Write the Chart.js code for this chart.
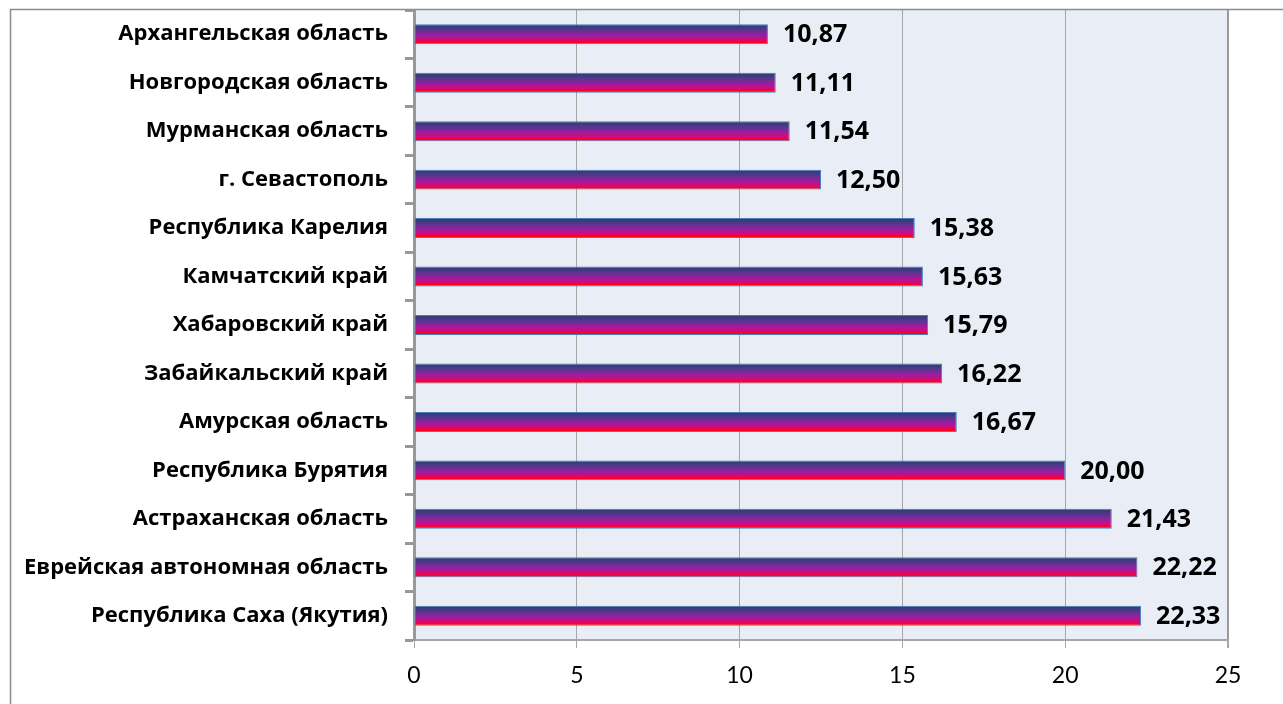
<!DOCTYPE html>
<html>
<head>
<meta charset="utf-8">
<script src="https://cdn.jsdelivr.net/npm/chart.js@4"></script>
<style>
html,body{margin:0;padding:0;background:#fff;}
#wrap{width:1283px;height:704px;position:relative;}
</style>
</head>
<body>
<div id="wrap"><canvas id="c" width="1283" height="704"></canvas></div>
<script>
const categories = [
  'Архангельская область',
  'Новгородская область',
  'Мурманская область',
  'г. Севастополь',
  'Республика Карелия',
  'Камчатский край',
  'Хабаровский край',
  'Забайкальский край',
  'Амурская область',
  'Республика Бурятия',
  'Астраханская область',
  'Еврейская автономная область',
  'Республика Саха (Якутия)'
];
const values = [10.87, 11.11, 11.54, 12.50, 15.38, 15.63, 15.79, 16.22, 16.67, 20.00, 21.43, 22.22, 22.33];
const xTicks = [0, 5, 10, 15, 20, 25];

const FONT = 'Lato, "Open Sans", sans-serif';
const BFONT = '"Open Sans", Lato, sans-serif';

function barGradient(ctx) {
  const chart = ctx.chart;
  const ys = chart.scales && chart.scales.y;
  if (!ys || !chart.chartArea || ctx.dataIndex === undefined) return '#8A1FA0';
  const c = ys.getPixelForValue(ctx.dataIndex);
  const h = (ys.height / categories.length) * 0.412 / 2;
  const g = chart.ctx.createLinearGradient(0, c - h, 0, c + h);
  g.addColorStop(0, '#253F6E');
  g.addColorStop(0.3, '#5A3590');
  g.addColorStop(0.55, '#9A1E9E');
  g.addColorStop(0.78, '#D10A80');
  g.addColorStop(0.9, '#FF0020');
  g.addColorStop(1, '#FF0000');
  return g;
}

const bgPlugin = {
  id: 'bg',
  beforeDraw(chart) {
    const {ctx, chartArea: a} = chart;
    ctx.save();
    ctx.fillStyle = '#E9EDF6';
    ctx.fillRect(a.left, a.top, a.right - a.left, a.bottom - a.top);
    ctx.restore();
  },
  afterDraw(chart) {
    const ctx = chart.ctx;
    ctx.save();
    ctx.strokeStyle = '#8C8C8C';
    ctx.lineWidth = 1.5;
    ctx.strokeRect(10.5, 9.5, 1400, 900);
    ctx.restore();
  }
};

const labelPlugin = {
  id: 'vals',
  afterDatasetsDraw(chart) {
    const ctx = chart.ctx;
    const meta = chart.getDatasetMeta(0);
    ctx.save();
    ctx.font = 'bold 25px ' + BFONT;
    ctx.fillStyle = '#000';
    ctx.textAlign = 'left';
    ctx.textBaseline = 'middle';
    meta.data.forEach((el, i) => {
      ctx.fillText(values[i].toFixed(2).replace('.', ','), el.x + 15, el.y + 1);
    });
    ctx.restore();
  }
};

new Chart(document.getElementById('c'), {
  type: 'bar',
  data: {
    labels: categories,
    datasets: [{
      data: values,
      backgroundColor: barGradient,
      borderColor: '#4A7EBB',
      borderWidth: 1,
      borderSkipped: false,
      categoryPercentage: 1,
      barPercentage: 0.412
    }]
  },
  options: {
    indexAxis: 'y',
    responsive: false,
    animation: false,
    events: [],
    layout: {padding: {top: 10, right: 55, bottom: 0, left: 0}},
    plugins: {legend: {display: false}, tooltip: {enabled: false}},
    scales: {
      x: {
        min: 0, max: 25,
        afterBuildTicks(s) { s.ticks = xTicks.map(v => ({value: v})); },
        afterFit(s) { s.height = 64; },
        ticks: {
          font: {family: FONT, size: 23},
          color: '#000',
          padding: 14,
          maxRotation: 0
        },
        grid: {
          color: (c) => c.tick && c.tick.value === 25 ? '#999' : '#A6A6A6',
          lineWidth: (c) => c.tick && c.tick.value === 25 ? 2 : 1,
          tickLength: 8,
          tickColor: '#A6A6A6'
        },
        border: {color: '#A6A6A6', width: 2}
      },
      y: {
        afterFit(s) { s.width = 414; s.paddingTop = 0; s.paddingBottom = 0; },
        ticks: {
          font: {family: BFONT, size: 22, weight: 'bold'},
          color: '#000',
          padding: 17,
          autoSkip: false
        },
        grid: {
          drawOnChartArea: false,
          tickLength: 9,
          tickWidth: 3,
          tickColor: '#999',
          offset: true
        },
        border: {color: '#999', width: 3}
      }
    }
  },
  plugins: [bgPlugin, labelPlugin]
});
</script>
</body>
</html>
